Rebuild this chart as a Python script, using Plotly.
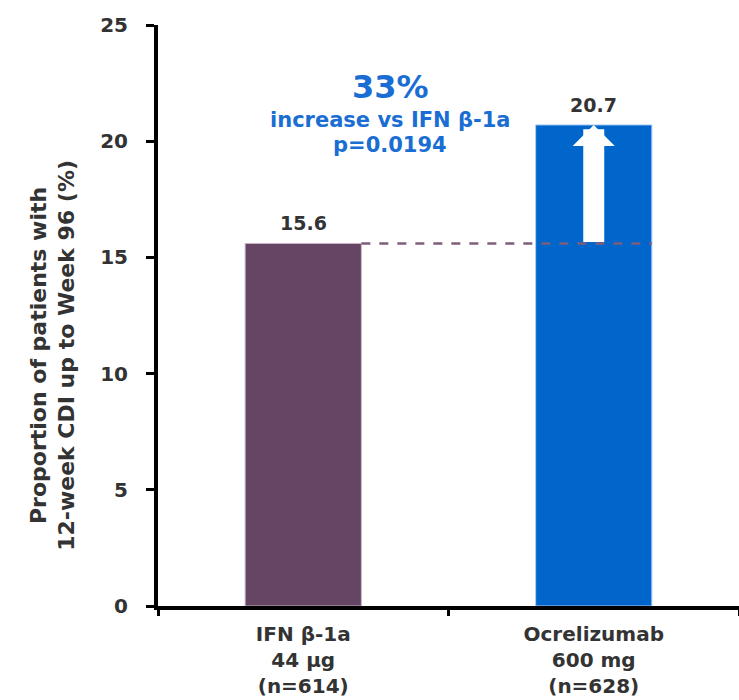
import plotly.graph_objects as go

# Treatment arms and outcome
categories = ["IFN β-1a<br>44 µg<br>(n=614)", "Ocrelizumab<br>600 mg<br>(n=628)"]
values = [15.6, 20.7]
bar_colors = ["#664463", "#0066CC"]
edge_colors = ["#c8b4c6", "#a9cdf2"]
y_ticks = [0, 5, 10, 15, 20, 25]

# Comparison callout
pct_increase = "33%"
increase_text = "increase vs IFN β-1a"
p_text = "p=0.0194"

FONT = "DejaVu Sans"
DARK = "#333333"
BLUE = "#1a6ed3"
BAR_W = 0.4

fig = go.Figure()
fig.add_trace(go.Bar(
    x=categories, y=values, width=BAR_W,
    marker=dict(color=bar_colors, line=dict(color=edge_colors, width=1)),
    hoverinfo="skip",
))

# Value labels above each bar
for c, v in zip(categories, values):
    fig.add_annotation(x=c, y=v, text=f"{v:.1f}", showarrow=False,
                       yanchor="bottom", yshift=7,
                       font=dict(family=FONT, size=19, color=DARK, weight="bold"))

# Reference level of the comparator carried across to the second bar
fig.add_shape(type="line", xref="x", yref="y",
              x0=0 + BAR_W / 2, x1=1 + BAR_W / 2, y0=values[0], y1=values[0],
              line=dict(color="#7d5e7b", width=2.5, dash="dash"), layer="above")

# White arrow showing the increase
fig.add_annotation(x=1, y=values[1], ax=1, ay=values[0], axref="x", ayref="y",
                   xref="x", yref="y", text="", showarrow=True,
                   arrowhead=1, arrowwidth=21, arrowsize=0.335, arrowcolor="white",
                   standoff=0, startstandoff=0)

# Callout text
fig.add_annotation(x=0.3, y=22.35, text=pct_increase, showarrow=False,
                   font=dict(family=FONT, size=32, color=BLUE, weight="bold"))
fig.add_annotation(x=0.3, y=20.9, text=increase_text, showarrow=False,
                   font=dict(family=FONT, size=21, color=BLUE, weight="bold"))
fig.add_annotation(x=0.3, y=19.85, text=p_text, showarrow=False,
                   font=dict(family=FONT, size=21, color=BLUE, weight="bold"))

# Y-axis title
fig.add_annotation(xref="paper", yref="paper", x=-0.181, y=0.432,
                   xanchor="center", yanchor="middle",
                   text="Proportion of patients with<br>12-week CDI up to Week 96 (%)",
                   textangle=-90, showarrow=False,
                   font=dict(family=FONT, size=22, color=DARK, weight="bold"))

fig.update_layout(
    width=739, height=700,
    margin=dict(l=158, r=0, t=25, b=94),
    plot_bgcolor="white", paper_bgcolor="white",
    showlegend=False,
    bargap=0.6,
    font=dict(family=FONT, color=DARK),
    xaxis=dict(
        type="category", range=[-0.5, 1.5],
        showline=True, linecolor="black", linewidth=4,
        ticks="outside", tickson="boundaries", ticklen=6, tickwidth=3, tickcolor="black",
        tickfont=dict(family=FONT, size=20, color=DARK, weight="bold"),
        ticklabelstandoff=7,
        showgrid=False, zeroline=False,
    ),
    yaxis=dict(
        range=[0, 25], tickvals=y_ticks,
        showline=True, linecolor="black", linewidth=4,
        ticks="outside", ticklen=8, tickwidth=3, tickcolor="black",
        tickfont=dict(family=FONT, size=20, color=DARK, weight="bold"),
        ticklabelstandoff=14,
        showgrid=False, zeroline=False,
    ),
)

fig.write_html("out.html")
